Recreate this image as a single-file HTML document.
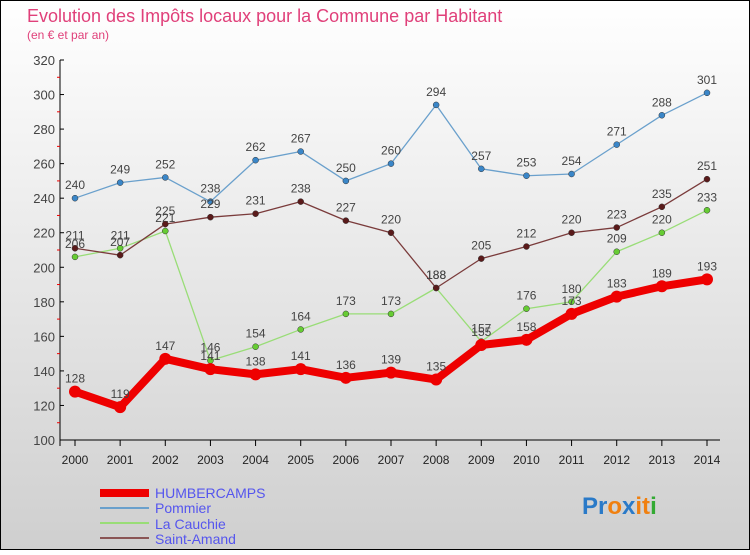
<!DOCTYPE html>
<html><head><meta charset="utf-8"><style>
body{margin:0;width:750px;height:550px;overflow:hidden;font-family:"Liberation Sans",sans-serif}
</style></head><body>
<svg width="750" height="550" xmlns="http://www.w3.org/2000/svg">
<defs><linearGradient id="bg" x1="0" y1="0" x2="0" y2="1"><stop offset="0" stop-color="#ffffff"/><stop offset="1" stop-color="#cfcfcf"/></linearGradient></defs>
<rect x="0.5" y="0.5" width="749" height="549" fill="url(#bg)" stroke="#000"/>
<text x="27" y="22" font-size="18" fill="#e0407a">Evolution des Impôts locaux pour la Commune par Habitant</text>
<text x="27" y="39" font-size="12" fill="#e0407a">(en € et par an)</text>
<g id="axes"></g><g id="series"></g>
<g>
<rect x="100" y="489" width="49" height="8" fill="#e00"/>
<text x="155" y="498" font-size="14" fill="#5555ee">HUMBERCAMPS</text>
<line x1="100" y1="508" x2="149" y2="508" stroke="#6aa0cc" stroke-width="2"/>
<text x="155" y="513" font-size="14" fill="#5555ee">Pommier</text>
<line x1="100" y1="523" x2="149" y2="523" stroke="#99dd77" stroke-width="2"/>
<text x="155" y="529" font-size="14" fill="#5555ee">La Cauchie</text>
<line x1="100" y1="538" x2="149" y2="538" stroke="#8a5555" stroke-width="2"/>
<text x="155" y="544" font-size="14" fill="#5555ee">Saint-Amand</text>
</g>
<text x="582" y="514" font-size="24" font-weight="bold"><tspan fill="#2a7ac8">Pr</tspan><tspan fill="#f08010">o</tspan><tspan fill="#2a7ac8">x</tspan><tspan fill="#f08010">it</tspan><tspan fill="#3a3">i</tspan></text>
</svg>
<script>
const years=[2000,2001,2002,2003,2004,2005,2006,2007,2008,2009,2010,2011,2012,2013,2014];
const yTicks=[100,120,140,160,180,200,220,240,260,280,300,320];
const humbercamps=[128,119,147,141,138,141,136,139,135,155,158,173,183,189,193];
const pommier=[240,249,252,238,262,267,250,260,294,257,253,254,271,288,301];
const laCauchie=[206,211,221,146,154,164,173,173,188,157,176,180,209,220,233];
const saintAmand=[211,207,225,229,231,238,227,220,188,205,212,220,223,235,251];
const NS="http://www.w3.org/2000/svg";
const X=i=>75+i*(632/14), Y=v=>440-(v-100)*380/220;
function mk(t,a,p){const e=document.createElementNS(NS,t);for(const k in a)e.setAttribute(k,a[k]);p.appendChild(e);return e;}
const ax=document.getElementById('axes'), sg=document.getElementById('series');
mk('line',{x1:60,y1:60,x2:60,y2:446,stroke:'#000'},ax);
mk('line',{x1:60,y1:440,x2:720,y2:440,stroke:'#000'},ax);
yTicks.forEach(v=>{
 const t=mk('text',{x:55,y:Y(v)+5,'font-size':13,fill:'#444','text-anchor':'end'},ax);t.textContent=v;
 
 
 mk('line',{x1:60,y1:Y(v),x2:64,y2:Y(v),stroke:'#000'},ax);
 if(v<320)mk('line',{x1:57,y1:Y(v+10),x2:60,y2:Y(v+10),stroke:'#e00'},ax);
});
years.forEach((y,i)=>{
 mk('line',{x1:X(i),y1:440,x2:X(i),y2:446,stroke:'#000'},ax);
 const t=mk('text',{x:X(i),y:464,'font-size':12,fill:'#222','text-anchor':'middle'},ax);t.textContent=y;
 
 
});
function draw(name,vals,col,w,r,dot){
 const g=mk('g',{},sg);
 
 
 mk('polyline',{points:vals.map((v,i)=>X(i)+','+Y(v)).join(' '),fill:'none',stroke:col,'stroke-width':w,'stroke-linejoin':'round'},g);
 vals.forEach((v,i)=>{
  const c=mk('circle',{cx:X(i),cy:Y(v),r:r,fill:dot,stroke:'#333','stroke-width':w>4?0:0.5},g);
  
  
  const t=mk('text',{x:X(i),y:Y(v)-9,'font-size':12,fill:'#444','text-anchor':'middle'},g);t.textContent=v;
  
  
 });
}
draw('pommier',pommier,'#6aa0cc',1.3,3,'#3a86c8');
draw('la-cauchie',laCauchie,'#99dd77',1.3,3,'#66cc33');
draw('saint-amand',saintAmand,'#7a3b3b',1.3,3,'#5a1a1a');
draw('humbercamps',humbercamps,'#ee0000',8,6,'#ee0000');
</script>
</body></html>
